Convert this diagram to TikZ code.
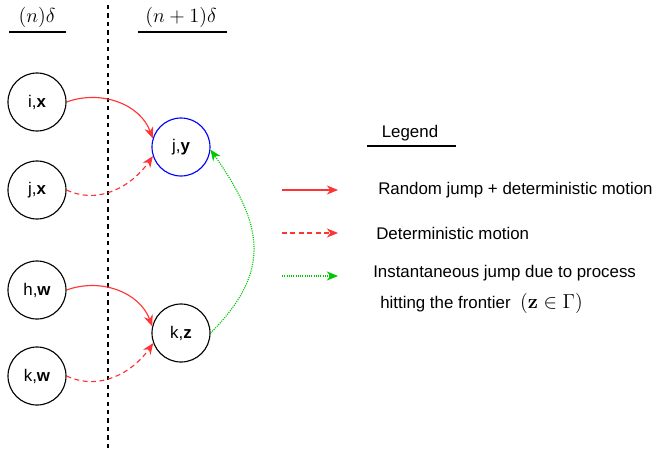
\documentclass[tikz,border=0pt]{standalone}
\usepackage[no-math]{fontspec}
\setmainfont{Liberation Sans}
\usetikzlibrary{arrows.meta}
\definecolor{jumpred}{RGB}{255,51,51}
\definecolor{hitgreen}{RGB}{0,200,0}

\begin{document}
\begin{tikzpicture}[x=0.025cm, y=-0.025cm, >={Stealth[length=8pt, width=6.5pt]},
  state/.style={circle, draw, line width=0.8pt, minimum size=1.45cm, inner sep=0pt, font=\fontsize{12}{14}\selectfont},
  jump/.style={->, jumpred, line width=0.8pt},
  drift/.style={->, jumpred, line width=0.8pt, dash pattern=on 3.5pt off 2.5pt},
  hit/.style={->, hitgreen, line width=0.8pt, dash pattern=on 0.8pt off 0.8pt},
  legtext/.style={anchor=west, inner sep=0pt, font=\fontsize{12}{14}\selectfont}]
  \useasboundingbox (0,0) rectangle (657,448);
  % Time headers
  \node[font=\Large] (hn) at (37,17) {$(n)\delta$};
  \node[font=\Large] (hn1) at (181,17) {$(n+1)\delta$};
  \draw[line width=0.8pt] (9,32) -- (66,32);
  \draw[line width=0.8pt] (138,32) -- (227,32);
  \draw[dashed, line width=0.8pt] (108,5) -- (108,448);
  % States at time n
  \node[state] (ix) at (37,102) {i,\textbf{x}};
  \node[state] (jx) at (37,190) {j,\textbf{x}};
  \node[state] (hw) at (37,290) {h,\textbf{w}};
  \node[state] (kw) at (37,376) {k,\textbf{w}};
  % States at time n+1
  \node[state, draw=blue] (jy) at (181,147) {j,\textbf{y}};
  \node[state] (kz) at (181,333) {k,\textbf{z}};
  % Transitions
  \draw[jump] (ix.east) to[out=20, in=110] (jy.163);
  \draw[drift] (jx.east) to[out=-25, in=235] (jy.198);
  \draw[jump] (hw.east) to[out=20, in=110] (kz.167);
  \draw[drift] (kw.east) to[out=-25, in=235] (kz.200);
  \draw[hit] (kz.east) to[out=45, in=-55, looseness=1.25] (jy.-5);
  % Legend
  \node[font=\fontsize{12}{14}\selectfont] (leg) at (410,133) {Legend};
  \draw[line width=0.8pt] (367,146) -- (456,146);
  \coordinate (la1) at (282,190); \coordinate (lb1) at (338,190);
  \coordinate (la2) at (282,233); \coordinate (lb2) at (338,233);
  \coordinate (la3) at (282,276); \coordinate (lb3) at (338,276);
  \draw[jump] (la1) -- (lb1);
  \draw[drift] (la2) -- (lb2);
  \draw[hit] (la3) -- (lb3);
  \node[legtext] (t1) at (378,190) {Random jump + deterministic motion};
  \node[legtext] (t2) at (376,233) {Deterministic motion};
  \node[legtext] (t3) at (373,273) {Instantaneous jump due to process};
  \node[legtext] (t4) at (380,303) {hitting the frontier \ {\Large$(\mathbf{z}\in\Gamma)$}};
\end{tikzpicture}
\end{document}
